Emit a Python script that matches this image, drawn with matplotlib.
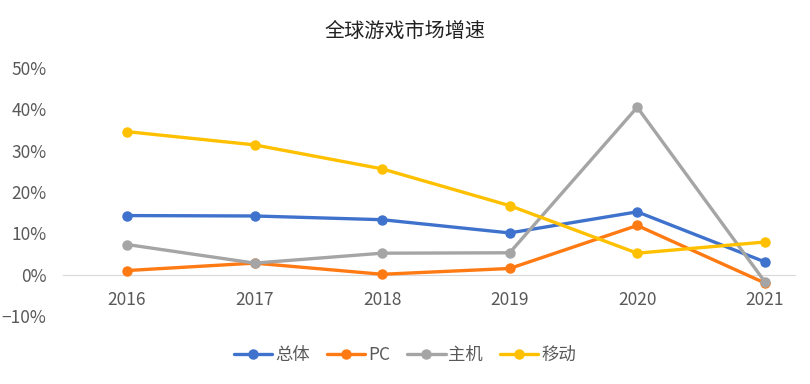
import matplotlib
matplotlib.use("Agg")
import matplotlib.pyplot as plt
from matplotlib.ticker import PercentFormatter

plt.rcParams['font.family'] = ['Noto Sans CJK SC', 'DejaVu Sans']

years = ['2016', '2017', '2018', '2019', '2020', '2021']
total = [14.3, 14.2, 13.3, 10.1, 15.2, 3.1]
pc = [1.0, 2.8, 0.1, 1.5, 11.9, -2.0]
console = [7.3, 2.8, 5.2, 5.3, 40.5, -1.7]
mobile = [34.6, 31.4, 25.6, 16.7, 5.2, 7.9]

names = ['总体', 'PC', '主机', '移动']
colors = ['#3F72CC', '#FF7A12', '#A5A5A5', '#FFC000']

fig = plt.figure(figsize=(8.1, 3.84), dpi=100)
ax = fig.add_axes([0.078, 0.177, 0.904, 0.646])

x = range(len(years))
for vals, name, c in zip([total, pc, console, mobile], names, colors):
    ax.plot(x, vals, color=c, lw=2.4, marker='o', ms=6.5, label=name,
            solid_capstyle='round')

ax.set_xlim(-0.5, 5.24)
ax.set_ylim(-10, 50)
ax.set_yticks([-10, 0, 10, 20, 30, 40, 50])
ax.yaxis.set_major_formatter(PercentFormatter(decimals=0))
ax.set_xticks(list(x))
ax.set_xticklabels(years)
# category labels sit under the zero line, like Excel
ax.spines['bottom'].set_position(('data', 0))
ax.spines['bottom'].set_color('#D9D9D9')
ax.spines['bottom'].set_zorder(0)
for s in ['top', 'left', 'right']:
    ax.spines[s].set_visible(False)
ax.tick_params(length=0, labelsize=12.5, colors='#595959')
ax.tick_params(axis='x', pad=12)
ax.tick_params(axis='y', pad=12)

fig.suptitle('全球游戏市场增速', y=0.945, fontsize=14.5, color='#222222')
fig.legend(loc='center', bbox_to_anchor=(0.5, 0.075), ncol=4, frameon=False,
           fontsize=12.5, handlelength=2.2, columnspacing=1.0, handletextpad=0.15,
           labelcolor='#595959')

fig.savefig('out.png', dpi=100)
